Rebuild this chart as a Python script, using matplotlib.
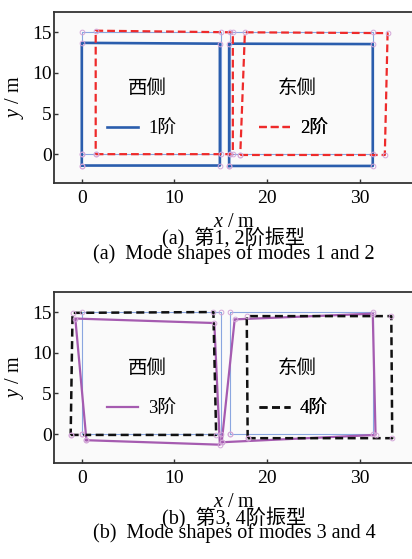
import matplotlib
matplotlib.use('Agg')
import matplotlib.pyplot as plt

plt.rcParams['font.family'] = ['Liberation Serif', 'Noto Sans CJK SC']
plt.rcParams['mathtext.fontset'] = 'custom'
plt.rcParams['mathtext.it'] = 'Liberation Serif:italic'
plt.rcParams['mathtext.rm'] = 'Liberation Serif'

# ---------------- data ----------------
undeformed_west_x = [0, 15, 15, 0, 0]
undeformed_west_y = [0, 0, 15, 15, 0]
undeformed_east_x = [16, 31.4, 31.4, 16, 16]
undeformed_east_y = [0, 0, 15, 15, 0]

mode1_west_x = [0, 14.9, 14.9, 0, 0]
mode1_west_y = [-1.4, -1.4, 13.6, 13.7, -1.4]
mode1_east_x = [15.9, 31.4, 31.4, 15.9, 15.9]
mode1_east_y = [-1.45, -1.45, 13.55, 13.6, -1.45]

mode2_west_x = [1.5, 16.3, 16.3, 1.5, 1.5]
mode2_west_y = [0.0, 0.0, 15.0, 15.2, 0.0]
mode2_east_x = [17.1, 32.7, 33.0, 17.6, 17.1]
mode2_east_y = [-0.1, -0.1, 14.9, 15.0, -0.1]

mode3_west_x = [0.5, 14.9, 14.3, -0.7, 0.5]
mode3_west_y = [-0.75, -1.3, 13.65, 14.2, -0.75]
mode3_east_x = [15.1, 31.7, 31.4, 16.5, 15.1]
mode3_east_y = [-1.0, -0.1, 14.8, 14.1, -1.0]

mode4_west_x = [-1.2, 14.5, 14.2, -1.0, -1.2]
mode4_west_y = [-0.1, -0.1, 15.0, 14.9, -0.1]
mode4_east_x = [17.9, 33.5, 33.4, 17.8, 17.9]
mode4_east_y = [-0.5, -0.5, 14.5, 14.5, -0.5]

x_ticks = [0, 10, 20, 30]
y_ticks = [0, 5, 10, 15]
side_labels = ['西侧', '东侧']
legend_labels_a = ['1阶', '2阶']
legend_labels_b = ['3阶', '4阶']
captions_a = ['(a)  第1, 2阶振型', '(a)  Mode shapes of modes 1 and 2']
captions_b = ['(b)  第3, 4阶振型', '(b)  Mode shapes of modes 3 and 4']

# ---------------- style ----------------
C_UND = '#8aa6e0'
C_M1 = '#2a5dad'
C_M2 = '#ee2a2a'
C_M3 = '#a55bb0'
C_M4 = '#111111'
C_MK = '#d3a6d8'

fig = plt.figure(figsize=(4.12, 5.59), dpi=100)
W, H = 412, 559


def make_ax(top_px, bot_px):
    ax = fig.add_axes([54 / W, 1 - bot_px / H, (414 - 54) / W, (bot_px - top_px) / H])
    ax.set_facecolor('#fafafa')
    ax.set_xlim(-3.0, 35.85)
    ax.set_ylim(-3.55, 17.5)
    ax.set_xticks(x_ticks)
    ax.set_yticks(y_ticks)
    ax.tick_params(axis='both', direction='in', length=3, width=1, labelsize=14, color='#333333')
    ax.tick_params(axis='x', pad=5)
    ax.tick_params(axis='y', pad=1.5)
    for s in ax.spines.values():
        s.set_linewidth(1.3)
        s.set_color('#333333')
    ax.spines['right'].set_visible(False)
    return ax


def draw_markers(ax, xs, ys):
    ax.plot(xs, ys, linestyle='none', marker='o', markersize=3.4,
            markerfacecolor='none', markeredgecolor=C_MK, markeredgewidth=0.7, zorder=5)


def draw_undeformed(ax):
    ax.plot(undeformed_west_x, undeformed_west_y, color=C_UND, lw=0.8, zorder=1)
    ax.plot(undeformed_east_x, undeformed_east_y, color=C_UND, lw=0.8, zorder=1)
    draw_markers(ax, undeformed_west_x, undeformed_west_y)
    draw_markers(ax, undeformed_east_x, undeformed_east_y)


def add_leg(ax, handle, label, x):
    leg = ax.legend([handle], [label], loc='center left', bbox_to_anchor=(x, 3.1),
                    bbox_transform=ax.transData, frameon=False, borderpad=0,
                    borderaxespad=0, handlelength=1.65, handletextpad=0.55,
                    fontsize=13.5)
    ax.add_artist(leg)


def side_text(ax):
    ax.text(7.1, 8.0, side_labels[0], ha='center', va='center', fontsize=14)
    ax.text(23.2, 8.0, side_labels[1], ha='center', va='center', fontsize=14)


# ---------------- (a) ----------------
ax1 = make_ax(12, 183)
draw_undeformed(ax1)
h1, = ax1.plot(mode1_west_x, mode1_west_y, color=C_M1, lw=1.9, zorder=2)
ax1.plot(mode1_east_x, mode1_east_y, color=C_M1, lw=1.9, zorder=2)
h2, = ax1.plot(mode2_west_x, mode2_west_y, color=C_M2, lw=1.6, ls=(0, (3.5, 1.8)), zorder=3)
ax1.plot(mode2_east_x, mode2_east_y, color=C_M2, lw=1.6, ls=(0, (3.5, 1.8)), zorder=3)
for xs, ys in [(mode1_west_x, mode1_west_y), (mode1_east_x, mode1_east_y),
               (mode2_west_x, mode2_west_y), (mode2_east_x, mode2_east_y)]:
    draw_markers(ax1, xs, ys)
side_text(ax1)
add_leg(ax1, h1, legend_labels_a[0], 2.7)
add_leg(ax1, h2, legend_labels_a[1], 19.1)

# ---------------- (b) ----------------
ax2 = make_ax(291.7, 463)
draw_undeformed(ax2)
h3, = ax2.plot(mode3_west_x, mode3_west_y, color=C_M3, lw=1.6, zorder=2)
ax2.plot(mode3_east_x, mode3_east_y, color=C_M3, lw=1.6, zorder=2)
h4, = ax2.plot(mode4_west_x, mode4_west_y, color=C_M4, lw=1.8, ls=(0, (3.2, 1.8)), zorder=3)
ax2.plot(mode4_east_x, mode4_east_y, color=C_M4, lw=1.8, ls=(0, (3.2, 1.8)), zorder=3)
for xs, ys in [(mode3_west_x, mode3_west_y), (mode3_east_x, mode3_east_y),
               (mode4_west_x, mode4_west_y), (mode4_east_x, mode4_east_y)]:
    draw_markers(ax2, xs, ys)
side_text(ax2)
add_leg(ax2, h3, legend_labels_b[0], 2.7)
add_leg(ax2, h4, legend_labels_b[1], 19.1)

# ---------------- labels ----------------
cx = 234 / W
FS = 14.5
for ycen in (97, 377):
    fig.text(15 / W, 1 - ycen / H, '$y$ / m', rotation=90, ha='center', va='center', fontsize=FS)
fig.text(cx, 1 - 226.7 / H, '$x$ / m', ha='center', va='baseline', fontsize=FS)
fig.text(cx, 1 - 243.3 / H, captions_a[0], ha='center', va='baseline', fontsize=FS)
fig.text(cx, 1 - 258.5 / H, captions_a[1], ha='center', va='baseline', fontsize=FS)
fig.text(cx, 1 - 506.7 / H, '$x$ / m', ha='center', va='baseline', fontsize=FS)
fig.text(cx, 1 - 523.3 / H, captions_b[0], ha='center', va='baseline', fontsize=FS)
fig.text(cx, 1 - 538.0 / H, captions_b[1], ha='center', va='baseline', fontsize=FS)

fig.savefig('out.png', dpi=100)
